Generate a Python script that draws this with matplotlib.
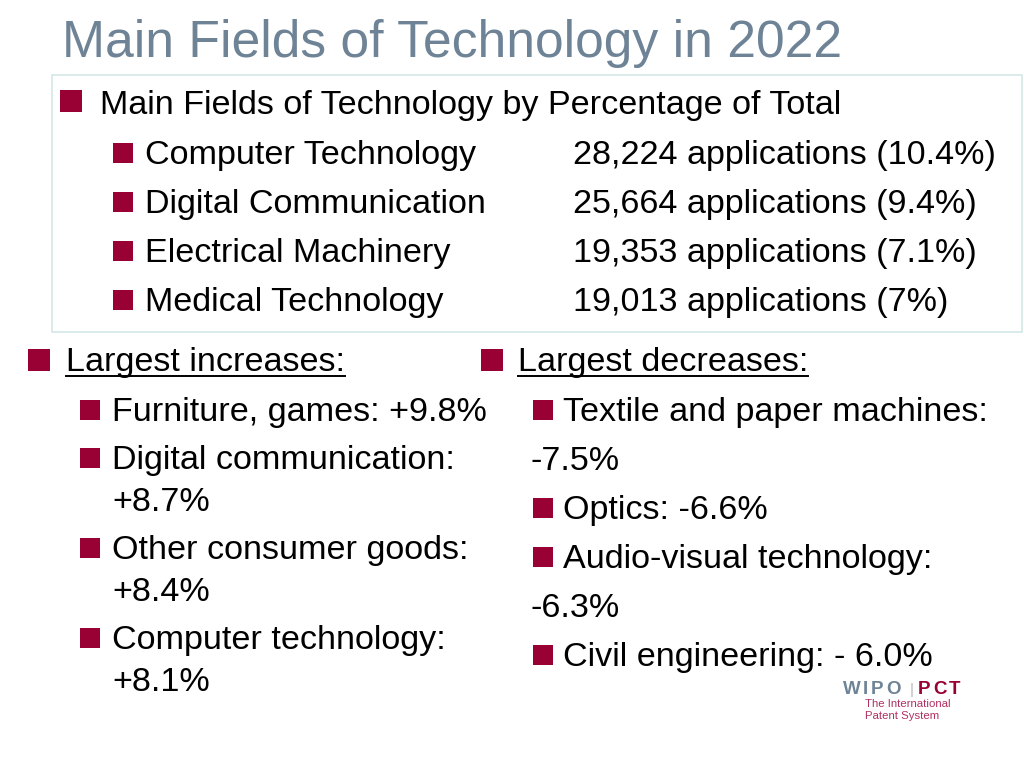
import matplotlib.pyplot as plt
from matplotlib.patches import Rectangle

plt.rcParams['font.family'] = ['Liberation Sans', 'DejaVu Sans']

# slide content
title = "Main Fields of Technology in 2022"
box_heading = "Main Fields of Technology by Percentage of Total"
fields = ["Computer Technology", "Digital Communication",
          "Electrical Machinery", "Medical Technology"]
applications = [28224, 25664, 19353, 19013]
shares = ["10.4%", "9.4%", "7.1%", "7%"]

increases_heading = "Largest increases:"
increases = [["Furniture, games: +9.8%"],
             ["Digital communication:", "+8.7%"],
             ["Other consumer goods:", "+8.4%"],
             ["Computer technology:", "+8.1%"]]

decreases_heading = "Largest decreases:"
decreases = [["Textile and paper machines:", "-7.5%"],
             ["Optics: -6.6%"],
             ["Audio-visual technology:", "-6.3%"],
             ["Civil engineering: - 6.0%"]]

RED = '#990033'
GREY = '#6e8396'
FS = 24.6

fig = plt.figure(figsize=(10.24, 7.68), dpi=100)
ax = fig.add_axes([0, 0, 1, 1])
ax.set_xlim(0, 1024)
ax.set_ylim(768, 0)
ax.axis('off')


def bullet(x, base, size):
    ax.add_patch(Rectangle((x, base - size), size, size, color=RED, lw=0))


def extent(t):
    fig.canvas.draw()
    return t.get_window_extent().transformed(ax.transData.inverted())


def underline(t):
    bb = extent(t)
    y = t.get_position()[1] + 5
    ax.plot([bb.x0, bb.x1], [y, y], color='black', lw=1.4)


def spaced(x, y, s, track, **kw):
    # letter-spaced text, one glyph at a time
    for ch in s:
        t = ax.text(x, y, ch, va='baseline', **kw)
        bb = extent(t)
        x = bb.x1 + track
    return x


ax.text(62, 57, title, fontsize=37.2, color=GREY, va='baseline')

ax.add_patch(Rectangle((52, 75), 970, 257, fill=False, ec='#d3e8e6', lw=1.2))
bullet(60, 112, 22)
ax.text(100, 114, box_heading, fontsize=FS, va='baseline')
for i, (f, n, s) in enumerate(zip(fields, applications, shares)):
    y = 164 + 49 * i
    bullet(113, y - 1, 20)
    ax.text(145, y, f, fontsize=FS, va='baseline')
    ax.text(573, y, f"{n:,} applications ({s})", fontsize=FS, va='baseline')

# left column
bullet(28, 371, 22)
t = ax.text(66, 371, increases_heading, fontsize=FS, va='baseline')
underline(t)
y = 421
for item in increases:
    bullet(80, y - 1, 20)
    for j, line in enumerate(item):
        ax.text(112, y, line, fontsize=FS, va='baseline')
        y += 42 if j < len(item) - 1 else 0
    y += 48

# right column
bullet(481, 371, 22)
t = ax.text(518, 371, decreases_heading, fontsize=FS, va='baseline')
underline(t)
y = 421
for item in decreases:
    bullet(533, y - 1, 20)
    for j, line in enumerate(item):
        ax.text(563 if j == 0 else 531, y, line, fontsize=FS, va='baseline')
        y += 49 if j < len(item) - 1 else 0
    y += 49

# logo
spaced(843, 694, "WIPO", 2.5, fontsize=13.5, fontweight='bold', color=GREY)
ax.text(910, 694, "|", fontsize=11, color='#b8b8b8', va='baseline')
spaced(918, 694, "PCT", 2.5, fontsize=13.5, fontweight='bold', color=RED)
ax.text(865, 707, "The International", fontsize=8.2, color='#b03060', va='baseline')
ax.text(865, 719, "Patent System", fontsize=8.2, color='#b03060', va='baseline')

fig.savefig('out.png', dpi=100)
